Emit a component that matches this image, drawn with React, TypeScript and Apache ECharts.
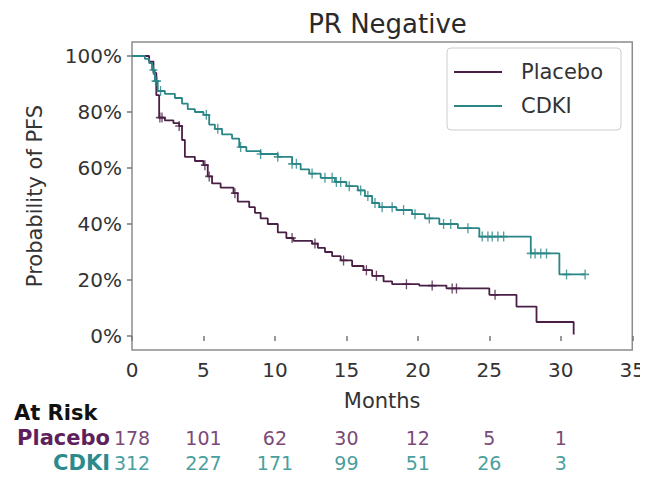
import React, { useEffect, useRef } from "react";
import * as echarts from "echarts";

// Kaplan–Meier estimates of progression-free survival, PR-negative subgroup
const chartTitle = "PR Negative";
const armNames = ["Placebo", "CDKI"];
const xTickValues = [0, 5, 10, 15, 20, 25, 30, 35];
const yTickValues = [0, 0.2, 0.4, 0.6, 0.8, 1.0];

// Placebo arm: event times (months) and survival after each event
const placeboTimes = [0, 1.2, 1.5, 1.7, 1.9, 2.3, 2.9, 3.3, 3.5, 3.7, 4.4, 5.0, 5.3, 5.6, 6.2, 7.1, 7.4, 8.2, 8.6, 9.0, 9.5, 10.2, 10.8, 11.3, 12.6, 13.0, 13.5, 14.0, 14.6, 15.4, 16.2, 16.8, 17.6, 18.2, 20.1, 22.0, 25.0, 26.9, 28.3, 30.9];
const placeboSurv = [1.0, 0.98, 0.94, 0.86, 0.78, 0.77, 0.76, 0.75, 0.7, 0.64, 0.625, 0.61, 0.57, 0.545, 0.53, 0.51, 0.48, 0.46, 0.44, 0.42, 0.4, 0.37, 0.35, 0.34, 0.33, 0.315, 0.3, 0.285, 0.27, 0.25, 0.235, 0.215, 0.195, 0.185, 0.18, 0.17, 0.147, 0.105, 0.05, 0.005];
const placeboCensored = [1.95, 2.1, 3.3, 5.1, 5.4, 7.2, 11.2, 12.8, 14.8, 16.4, 17.1, 19.2, 21.0, 22.4, 22.7, 25.4];

// CDKI arm: event times (months) and survival after each event
const cdkiTimes = [0, 0.9, 1.2, 1.4, 1.6, 1.8, 2.3, 3.0, 3.5, 3.9, 4.4, 5.0, 5.4, 5.8, 6.3, 7.0, 7.5, 8.0, 9.0, 10.2, 11.2, 11.8, 12.4, 13.2, 14.2, 15.0, 15.8, 16.3, 16.8, 17.3, 18.5, 19.6, 20.5, 21.5, 22.8, 24.3, 27.9, 29.9];
const cdkiSurv = [1.0, 0.99, 0.975, 0.95, 0.91, 0.875, 0.865, 0.85, 0.83, 0.81, 0.8, 0.79, 0.755, 0.74, 0.72, 0.705, 0.675, 0.66, 0.65, 0.64, 0.615, 0.595, 0.58, 0.565, 0.55, 0.535, 0.52, 0.5, 0.475, 0.46, 0.45, 0.435, 0.42, 0.4, 0.385, 0.355, 0.295, 0.22];
const cdkiCensored = [1.5, 1.65, 1.75, 2.0, 5.2, 6.0, 7.6, 9.0, 10.2, 11.2, 11.5, 12.6, 13.5, 14.0, 14.3, 14.6, 15.2, 16.0, 16.5, 17.0, 17.5, 18.2, 19.0, 19.8, 20.8, 21.8, 22.3, 23.5, 24.5, 24.9, 25.2, 25.6, 26.0, 27.9, 28.2, 28.6, 29.0, 30.4, 31.7];
const cdkiLastFollowUp = 31.7;

// Numbers at risk
const riskTimes = [0, 5, 10, 15, 20, 25, 30];
const placeboAtRisk = [178, 101, 62, 30, 12, 5, 1];
const cdkiAtRisk = [312, 227, 171, 99, 51, 26, 3];

const FONT = "DejaVu Sans";
const PLACEBO_LINE = "#4a1f45";
const CDKI_LINE = "#2a8686";
const PLACEBO_TEXT = "#5e1f5c";
const CDKI_TEXT = "#2d8a8c";
const PLACEBO_NUM = "#7b4a78";
const CDKI_NUM = "#4a9fa0";

function survivalAt(times: number[], surv: number[], t: number): number {
  let s = surv[0];
  for (let i = 0; i < times.length; i++) {
    if (times[i] <= t) s = surv[i];
  }
  return s;
}

function stepPoints(times: number[], surv: number[], lastTime?: number): number[][] {
  const pts = times.map((t, i) => [t, surv[i]]);
  if (lastTime !== undefined && lastTime > times[times.length - 1]) {
    pts.push([lastTime, surv[surv.length - 1]]);
  }
  return pts;
}

const PLUS = "path://M5,0L5,10M0,5L10,5";

export default function App() {
  const ref = useRef<HTMLDivElement>(null);

  useEffect(() => {
    if (!ref.current) return;
    const chart = echarts.init(ref.current, undefined, { renderer: "svg" });

    const gridLeft = 132;
    const gridTop = 42;
    const gridWidth = 501;
    const gridHeight = 308;

    const option: any = {
      animation: false,
      backgroundColor: "#ffffff",
      textStyle: { fontFamily: FONT },
      title: {
        text: chartTitle,
        left: gridLeft + gridWidth / 2,
        top: 6,
        textAlign: "center",
        textStyle: { fontFamily: FONT, fontSize: 26, fontWeight: "normal", color: "#2a2a2a" },
      },
      legend: {
        orient: "vertical",
        left: 447,
        top: 48,
        data: armNames,
        icon: "rect",
        itemWidth: 48,
        itemHeight: 2,
        itemGap: 12,
        padding: [13, 18, 13, 7],
        borderColor: "#cccccc",
        borderWidth: 1,
        borderRadius: 4,
        backgroundColor: "#ffffff",
        textStyle: { fontFamily: FONT, fontSize: 21, color: "#333333", padding: [0, 0, 0, 14], lineHeight: 22 },
      },
      grid: {
        left: gridLeft,
        top: gridTop,
        width: gridWidth,
        height: gridHeight,
        show: true,
        borderColor: "#8c8c8c",
        borderWidth: 1.5,
        backgroundColor: "#ffffff",
      },
      xAxis: {
        type: "value",
        min: xTickValues[0],
        max: xTickValues[xTickValues.length - 1],
        interval: 5,
        axisLine: { show: false },
        axisTick: { show: true, length: 5, lineStyle: { color: "#777777", width: 1.5 } },
        splitLine: { show: false },
        axisLabel: { fontFamily: FONT, fontSize: 20, color: "#333333", margin: 10, showMinLabel: true, showMaxLabel: true },
        name: "Months",
        nameLocation: "middle",
        nameGap: 40,
        nameTextStyle: { fontFamily: FONT, fontSize: 21, color: "#333333" },
      },
      yAxis: {
        type: "value",
        min: -0.05,
        max: 1.05,
        axisLine: { show: false },
        axisTick: { show: true, length: 5, customValues: yTickValues, lineStyle: { color: "#777777", width: 1.5 } },
        splitLine: { show: false },
        axisLabel: {
          fontFamily: FONT,
          fontSize: 20,
          color: "#333333",
          margin: 10,
          customValues: yTickValues,
          formatter: (v: number) => `${Math.round(v * 100)}%`,
        },
      },
      series: [
        {
          name: armNames[0],
          type: "line",
          step: "end",
          symbol: "none",
          data: stepPoints(placeboTimes, placeboSurv),
          lineStyle: { color: PLACEBO_LINE, width: 1.8 },
          itemStyle: { color: PLACEBO_LINE },
          z: 3,
        },
        {
          name: armNames[1],
          type: "line",
          step: "end",
          symbol: "none",
          data: stepPoints(cdkiTimes, cdkiSurv, cdkiLastFollowUp),
          lineStyle: { color: CDKI_LINE, width: 1.8 },
          itemStyle: { color: CDKI_LINE },
          z: 3,
        },
        {
          name: "placebo-censor",
          type: "scatter",
          symbol: PLUS,
          symbolSize: [8, 10],
          data: placeboCensored.map((t) => [t, survivalAt(placeboTimes, placeboSurv, t)]),
          itemStyle: { color: "transparent", borderColor: PLACEBO_LINE, borderWidth: 1.5 },
          z: 4,
        },
        {
          name: "cdki-censor",
          type: "scatter",
          symbol: PLUS,
          symbolSize: [8, 10],
          data: cdkiCensored.map((t) => [t, survivalAt(cdkiTimes, cdkiSurv, t)]),
          itemStyle: { color: "transparent", borderColor: CDKI_LINE, borderWidth: 1.5 },
          z: 4,
        },
      ],
    };

    chart.setOption(option);

    // Y-axis title and the numbers-at-risk table, placed via the x scale
    const xAt = (t: number) => chart.convertToPixel({ xAxisIndex: 0 }, t) as number;
    const graphics: any[] = [
      {
        type: "text",
        x: 35,
        y: gridTop + gridHeight / 2,
        rotation: Math.PI / 2,
        style: {
          text: "Probability of PFS",
          fontFamily: FONT,
          fontSize: 21,
          fill: "#333333",
          align: "center",
          verticalAlign: "middle",
        },
      },
      {
        type: "text",
        x: 14,
        y: 413,
        style: { text: "At Risk", fontFamily: FONT, fontSize: 21, fontWeight: "bold", fill: "#111111", align: "left", verticalAlign: "middle" },
      },
      {
        type: "text",
        x: 110,
        y: 438,
        style: { text: armNames[0], fontFamily: FONT, fontSize: 21, fontWeight: "bold", fill: PLACEBO_TEXT, align: "right", verticalAlign: "middle" },
      },
      {
        type: "text",
        x: 110,
        y: 463,
        style: { text: armNames[1], fontFamily: FONT, fontSize: 21, fontWeight: "bold", fill: CDKI_TEXT, align: "right", verticalAlign: "middle" },
      },
    ];
    riskTimes.forEach((t, i) => {
      const x = xAt(t);
      graphics.push({
        type: "text",
        x,
        y: 438,
        style: { text: String(placeboAtRisk[i]), fontFamily: FONT, fontSize: 19, fill: PLACEBO_NUM, align: "center", verticalAlign: "middle" },
      });
      graphics.push({
        type: "text",
        x,
        y: 463,
        style: { text: String(cdkiAtRisk[i]), fontFamily: FONT, fontSize: 19, fill: CDKI_NUM, align: "center", verticalAlign: "middle" },
      });
    });
    chart.setOption({ graphic: graphics });

    return () => chart.dispose();
  }, []);

  return <div ref={ref} style={{ width: 648, height: 489, margin: -8 }} />;
}
